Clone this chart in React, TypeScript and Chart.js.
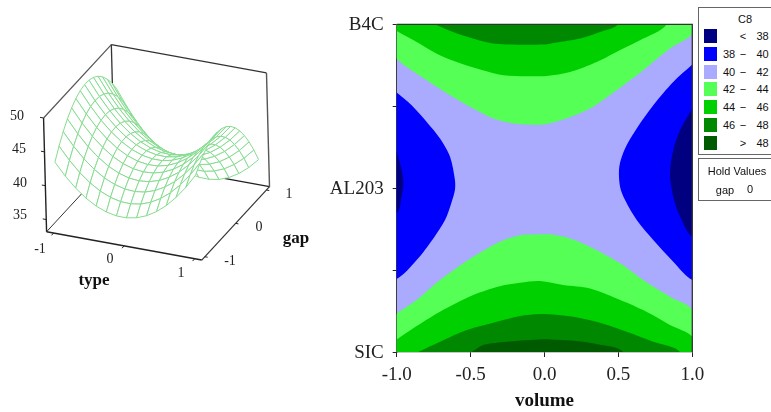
import React, { useEffect, useRef } from "react";
import { Chart, registerables } from "chart.js";

Chart.register(...registerables);

const SERIF = "'Liberation Serif', serif";
const SANS = "'Liberation Sans', sans-serif";

// ---------- surface: response over type (columns) and gap (rows)
const typeGrid = [-1, -0.857, -0.714, -0.571, -0.429, -0.286, -0.143, 0, 0.143, 0.286, 0.429, 0.571, 0.714, 0.857, 1];
const gapGrid = [-1, -0.857, -0.714, -0.571, -0.429, -0.286, -0.143, 0, 0.143, 0.286, 0.429, 0.571, 0.714, 0.857, 1];
const zGap0 = [43.17, 41.38, 39.88, 38.68, 37.77, 37.17, 36.86, 36.85, 37.13, 37.71, 38.59, 39.76, 41.24, 43.0, 45.07];
const zGap1 = [44.84, 43.0, 41.46, 40.21, 39.27, 38.62, 38.26, 38.21, 38.44, 38.99, 39.82, 40.94, 42.38, 44.1, 46.12];
const zGap2 = [46.26, 44.38, 42.79, 41.5, 40.51, 39.82, 39.42, 39.32, 39.51, 40.01, 40.8, 41.88, 43.27, 44.95, 46.93];
const zGap3 = [47.44, 45.51, 43.88, 42.55, 41.51, 40.78, 40.33, 40.19, 40.34, 40.79, 41.54, 42.57, 43.92, 45.56, 47.49];
const zGap4 = [48.37, 46.4, 44.73, 43.35, 42.27, 41.49, 41.0, 40.82, 40.92, 41.33, 42.03, 43.02, 44.33, 45.92, 47.81];
const zGap5 = [49.06, 47.05, 45.33, 43.9, 42.78, 41.96, 41.43, 41.2, 41.25, 41.62, 42.28, 43.23, 44.49, 46.03, 47.88];
const zGap6 = [49.5, 47.45, 45.68, 44.21, 43.05, 42.18, 41.61, 41.33, 41.34, 41.67, 42.28, 43.19, 44.4, 45.9, 47.71];
const zGap7 = [49.7, 47.6, 45.79, 44.28, 43.07, 42.16, 41.54, 41.22, 41.19, 41.47, 42.04, 42.9, 44.07, 45.53, 47.29];
const zGap8 = [49.65, 47.51, 45.66, 44.1, 42.85, 41.89, 41.23, 40.87, 40.79, 41.03, 41.55, 42.37, 43.5, 44.91, 46.63];
const zGap9 = [49.36, 47.17, 45.28, 43.68, 42.38, 41.38, 40.67, 40.27, 40.15, 40.34, 40.82, 41.59, 42.68, 44.05, 45.72];
const zGap10 = [48.83, 46.59, 44.65, 43.01, 41.67, 40.63, 39.87, 39.42, 39.26, 39.41, 39.85, 40.57, 41.61, 42.94, 44.57];
const zGap11 = [48.04, 45.77, 43.78, 42.1, 40.71, 39.62, 38.83, 38.33, 38.13, 38.23, 38.62, 39.31, 40.3, 41.59, 43.17];
const zGap12 = [47.02, 44.7, 42.67, 40.94, 39.51, 38.38, 37.54, 37.0, 36.75, 36.81, 37.16, 37.8, 38.75, 39.99, 41.53];
const zGap13 = [45.75, 43.38, 41.31, 39.54, 38.06, 36.89, 36.0, 35.42, 35.13, 35.14, 35.45, 36.04, 36.95, 38.15, 39.64];
const zGap14 = [44.23, 41.82, 39.71, 37.89, 36.37, 35.15, 34.22, 33.6, 33.26, 33.23, 33.49, 34.04, 34.91, 36.06, 37.51];
const surfaceZ = [zGap0, zGap1, zGap2, zGap3, zGap4, zGap5, zGap6, zGap7, zGap8, zGap9, zGap10, zGap11, zGap12, zGap13, zGap14];

const zTicks = [35, 40, 45, 50];
const typeTicks = [-1, 0, 1];
const gapTicks = [-1, 0, 1];

// ---------- contour boundaries, in (volume, type) axis units
const topLight = [[-1,.787],[-.932,.74],[-.797,.659],[-.639,.567],[-.482,.486],[-.346,.425],[-.211,.395],[-.098,.388],[-.01,.388],[.127,.419],[.308,.486],[.488,.598],[.668,.72],[.849,.852],[1,.939]];
const topMid = [[-1,.959],[-.865,.892],[-.729,.821],[-.594,.77],[-.436,.724],[-.279,.689],[-.12,.683],[.015,.685],[.173,.709],[.353,.77],[.533,.852],[.646,.902],[.827,1]];
const topDark = [[-.741,1],[-.619,.953],[-.484,.913],[-.369,.886],[-.233,.876],[0,.876],[.037,.882],[.24,.913],[.376,.953],[.497,1]];
const leftBlue = [[-1,.584],[-.899,.506],[-.797,.404],[-.707,.303],[-.639,.191],[-.606,.049],[-.606,-.012],[-.628,-.084],[-.673,-.195],[-.752,-.307],[-.865,-.439],[-1,-.555]];
const leftNavy = [[-1,.221],[-.966,.11],[-.955,.029],[-.966,-.043],[-1,-.152]];
const rightBlue = [[1,.754],[.871,.648],[.736,.506],[.624,.364],[.545,.242],[.506,.13],[.511,.008],[.545,-.073],[.624,-.195],[.736,-.317],[.871,-.449],[1,-.561]];
const rightNavy = [[1,.486],[.917,.354],[.871,.232],[.849,.09],[.871,-.053],[.917,-.175],[1,-.297]];
const botLight = [[-1,-.764],[-.865,-.683],[-.707,-.561],[-.482,-.419],[-.301,-.327],[-.166,-.287],[-.03,-.282],[.037,-.282],[.173,-.307],[.33,-.368],[.511,-.459],[.668,-.561],[.849,-.663],[1,-.744]];
const botMid = [[-1,-.923],[-.888,-.855],[-.707,-.754],[-.482,-.652],[-.301,-.598],[-.166,-.577],[-.03,-.567],[.127,-.591],[.308,-.612],[.488,-.673],[.668,-.744],[.849,-.835],[1,-.907]];
const botDark = [[-.854,-1],[-.707,-.937],[-.526,-.866],[-.323,-.815],[-.166,-.78],[-.03,-.768],[.037,-.77],[.195,-.785],[.376,-.821],[.556,-.876],[.736,-.937],[.917,-1]];
const botDarkest = [[-.493,-1],[-.414,-.957],[-.256,-.937],[-.098,-.927],[.037,-.923],[.195,-.931],[.353,-.951],[.533,-1]];

const yLabels: Record<string, string> = { "-1": "SIC", "0": "AL203", "1": "B4C" };

// ---------- legend
const legendTitle = "C8";
const legendLow = ["", "38", "40", "42", "44", "46", ""];
const legendSep = ["<", "\u2212", "\u2212", "\u2212", "\u2212", "\u2212", ">"];
const legendHigh = ["38", "40", "42", "44", "46", "48", "48"];
const legendColors = ["#000080", "#0000ff", "#aaaaff", "#55ff55", "#00d000", "#008800", "#005a00"];

// ---------- 3D view of the left panel
const BOX = 1.1;
const ZMIN = 33.2;
const ZMAX = 50;
function project(t: number, g: number, z: number) {
  const u = 0.5 + 0.455 * t;
  const v = 0.5 + 0.455 * g;
  const dz = z - ZMIN;
  return { x: 46.7 + 155 * u + 67.7 * v - 0.18 * dz, y: 231.7 + 28.3 * u - 73.3 * v - 6.77 * dz };
}

const WIRE = "#86dc90";

function buildLeftDatasets() {
  const seg = (pts: number[][], color: string, width: number) => ({
    data: pts.map(([t, g, z]) => project(t, g, z)),
    showLine: true, pointRadius: 0, borderColor: color, borderWidth: width, fill: false, tension: 0,
  });
  const paint: any[] = [];
  paint.push(seg([[-BOX, -BOX, ZMIN], [-BOX, BOX, ZMIN]], "#333", 1));
  paint.push(seg([[-BOX, BOX, ZMIN], [BOX, BOX, ZMIN]], "#222", 1.4));
  paint.push(seg([[-BOX, BOX, ZMIN], [-BOX, BOX, ZMAX]], "#333", 1.3));
  for (let r = gapGrid.length - 2; r >= 0; r--) {
    for (let c = 0; c < typeGrid.length - 1; c++) {
      const corners = [[c, r], [c + 1, r], [c + 1, r + 1], [c, r + 1], [c, r]];
      paint.push({
        data: corners.map(([ci, ri]) => project(typeGrid[ci], gapGrid[ri], surfaceZ[ri][ci])),
        showLine: true, pointRadius: 0, borderColor: WIRE, borderWidth: 1,
        backgroundColor: "#ffffff", fill: "shape", tension: 0,
      });
    }
  }
  paint.push(seg([[-BOX, -BOX, ZMIN], [-BOX, -BOX, ZMAX]], "#222", 1.4));
  paint.push(seg([[-BOX, -BOX, ZMAX], [-BOX, BOX, ZMAX]], "#555", 1.2));
  paint.push(seg([[-BOX, BOX, ZMAX], [BOX, BOX, ZMAX]], "#333", 1.3));
  paint.push(seg([[BOX, BOX, ZMAX], [BOX, BOX, ZMIN]], "#555", 1.4));
  paint.push(seg([[-BOX, -BOX, ZMIN], [BOX, -BOX, ZMIN]], "#222", 1.4));
  paint.push(seg([[BOX, -BOX, ZMIN], [BOX, BOX, ZMIN]], "#333", 1.2));
  for (const z of zTicks) paint.push(seg([[-BOX, -BOX, z], [-BOX - 0.05, -BOX, z]], "#222", 1));
  for (const t of typeTicks) paint.push(seg([[t, -BOX, ZMIN], [t, -BOX - 0.07, ZMIN]], "#222", 1));
  for (const g of gapTicks) paint.push(seg([[BOX, g, ZMIN], [BOX + 0.04, g, ZMIN]], "#222", 1));
  return paint.reverse();
}

function buildRightDatasets() {
  const poly = (pts: number[][], color: string, tension = 0.3) => ({
    data: pts.map(([x, y]) => ({ x, y })),
    showLine: true, pointRadius: 0, borderWidth: 0, borderColor: color,
    backgroundColor: color, fill: "shape", tension, capBezierPoints: false,
  });
  const [navy, blue, lav, light, mid, dark, darkest] = legendColors;
  const paint: any[] = [
    poly([[-1, -1], [1, -1], [1, 1], [-1, 1], [-1, -1]], lav, 0),
    poly([...leftBlue, [-1.2, -0.6], [-1.2, 0.6], leftBlue[0]], blue),
    poly([...leftNavy, [-1.2, -0.2], [-1.2, 0.25], leftNavy[0]], navy),
    poly([...rightBlue, [1.2, -0.6], [1.2, 0.8], rightBlue[0]], blue),
    poly([...rightNavy, [1.2, -0.35], [1.2, 0.55], rightNavy[0]], navy),
    poly([...topLight, [1.2, 1.2], [-1.2, 1.2], topLight[0]], light),
    poly([...topMid, [0.85, 1.2], [-1.2, 1.2], topMid[0]], mid),
    poly([...topDark, [0.55, 1.2], [-0.8, 1.2], topDark[0]], dark),
    poly([...botLight, [1.2, -1.2], [-1.2, -1.2], botLight[0]], light),
    poly([...botMid, [1.2, -1.2], [-1.2, -1.2], botMid[0]], mid),
    poly([...botDark, [0.95, -1.2], [-0.9, -1.2], botDark[0]], dark),
    poly([...botDarkest, [0.57, -1.2], [-0.53, -1.2], botDarkest[0]], darkest),
    {
      data: [{ x: -1, y: 1 }, { x: 1, y: 1 }, { x: 1, y: -1 }],
      showLine: true, pointRadius: 0, borderColor: "#333", borderWidth: 1.3, fill: false, clip: false,
    },
  ];
  return paint.reverse();
}

const leftTexts = [
  { text: "50", x: 17, y: 116 }, { text: "45", x: 19, y: 149 }, { text: "40", x: 20, y: 183 }, { text: "35", x: 20, y: 215 },
  { text: "-1", x: 40, y: 249 }, { text: "0", x: 110, y: 259 }, { text: "1", x: 181, y: 273 },
  { text: "-1", x: 230, y: 261 }, { text: "0", x: 259, y: 227 }, { text: "1", x: 289, y: 194 },
];
const leftTitles = [
  { text: "type", x: 94, y: 279 },
  { text: "gap", x: 296, y: 237 },
];

export default function App() {
  const leftRef = useRef<HTMLCanvasElement>(null);
  const rightRef = useRef<HTMLCanvasElement>(null);

  useEffect(() => {
    const left = new Chart(leftRef.current!, {
      type: "scatter",
      data: { datasets: buildLeftDatasets() },
      options: {
        responsive: false, animation: false, events: [],
        layout: { padding: 0 },
        plugins: { legend: { display: false }, tooltip: { enabled: false } },
        scales: {
          x: { display: false, type: "linear", min: 0, max: 325 },
          y: { display: false, type: "linear", min: 0, max: 412, reverse: true },
        },
      },
    } as any);

    const tickFont = { family: SERIF, size: 19 };
    const right = new Chart(rightRef.current!, {
      type: "scatter",
      data: { datasets: buildRightDatasets() },
      options: {
        responsive: false, animation: false, events: [],
        layout: { padding: { left: 0, top: 24.3, right: 78.7, bottom: 0 } },
        plugins: { legend: { display: false }, tooltip: { enabled: false } },
        scales: {
          x: {
            type: "linear", min: -1, max: 1,
            afterFit: (s: any) => { s.height = 60; },
            border: { color: "#222", width: 1.3 },
            grid: { drawOnChartArea: false, drawTicks: true, tickLength: 5, color: "#222" },
            ticks: {
              stepSize: 0.5, maxRotation: 0, autoSkip: false, padding: 7, color: "#222", font: tickFont,
              callback: (v: any) => Number(v).toFixed(1),
            },
            title: { display: true, text: "volume", color: "#111", font: { family: SERIF, size: 19, weight: "bold" }, padding: 0 },
          },
          y: {
            type: "linear", min: -1, max: 1,
            afterFit: (s: any) => { s.width = 71.7; },
            border: { color: "#333", width: 1.3 },
            grid: { drawOnChartArea: false, drawTicks: true, tickLength: 4, color: "#222" },
            ticks: {
              stepSize: 0.5, autoSkip: false, padding: 9, color: "#222", font: tickFont, labelOffset: 1,
              callback: (v: any) => yLabels[String(v)] ?? "",
            },
          },
        },
      },
    } as any);
    return () => { left.destroy(); right.destroy(); };
  }, []);

  const abs = (x: number, y: number): React.CSSProperties => ({
    position: "absolute", left: x, top: y, transform: "translate(-50%,-50%)", whiteSpace: "pre", lineHeight: 1,
  });
  const legendText: React.CSSProperties = { fontFamily: SANS, fontSize: 11, color: "#111" };
  const boxStyle = (top: number, height: number): React.CSSProperties => ({
    position: "absolute", left: 698, top, width: 80, height, boxSizing: "border-box",
    border: "1.5px solid #666", background: "#fff",
  });

  return (
    <div style={{ position: "absolute", left: 0, top: 0, width: 771, height: 412, overflow: "hidden", background: "#fff" }}>
      <canvas ref={leftRef} width={325} height={412} style={{ position: "absolute", left: 0, top: 0 }} />
      <canvas ref={rightRef} width={446} height={412} style={{ position: "absolute", left: 325, top: 0 }} />
      {leftTexts.map((t, i) => (
        <span key={i} style={{ ...abs(t.x, t.y), fontFamily: SERIF, fontSize: 14, color: "#222" }}>{t.text}</span>
      ))}
      {leftTitles.map((t, i) => (
        <span key={i} style={{ ...abs(t.x, t.y), fontFamily: SERIF, fontSize: 17, fontWeight: "bold", color: "#111" }}>{t.text}</span>
      ))}
      <div style={boxStyle(7, 148)} />
      <div style={boxStyle(158, 43)} />
      <span style={{ ...abs(745, 19), ...legendText }}>{legendTitle}</span>
      {legendColors.map((c, i) => {
        const y = 36.2 + i * 17.75;
        return (
          <React.Fragment key={c}>
            <div style={{ position: "absolute", left: 703.5, top: y - 7, width: 13, height: 14, background: c }} />
            <span style={{ ...abs(729, y), ...legendText }}>{legendLow[i]}</span>
            <span style={{ ...abs(743, y), ...legendText }}>{legendSep[i]}</span>
            <span style={{ ...abs(762.5, y), ...legendText }}>{legendHigh[i]}</span>
          </React.Fragment>
        );
      })}
      <span style={{ ...abs(737, 171), ...legendText }}>Hold Values</span>
      <span style={{ ...abs(725, 190), ...legendText }}>gap</span>
      <span style={{ ...abs(750, 189), ...legendText }}>0</span>
    </div>
  );
}
